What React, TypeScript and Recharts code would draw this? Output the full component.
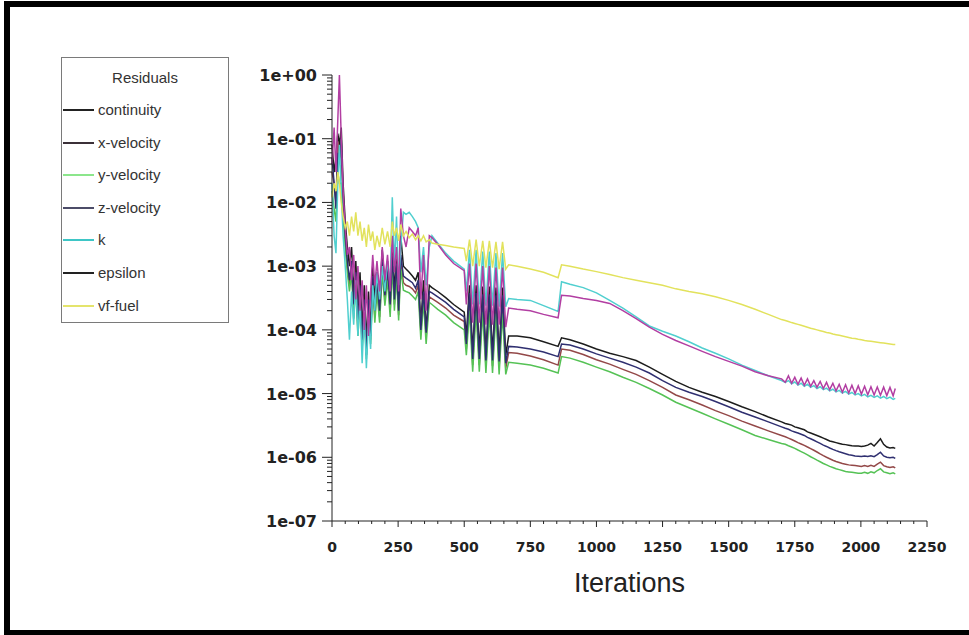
import { LineChart, Line, XAxis, YAxis } from "recharts";

// iteration numbers (x) shared by all residual series
const iterations = [
  0, 8, 15, 22, 28, 35, 42, 50,
  58, 66, 74, 82, 90, 98, 106, 114,
  122, 130, 138, 146, 154, 162, 170, 180,
  190, 200, 210, 220, 228, 236, 244, 252,
  260, 270, 280, 292, 304, 316, 326, 336,
  346, 356, 368, 378, 400, 430, 460, 500,
  508, 520, 532, 545, 557, 570, 582, 595, 607, 620, 632, 645, 657,
  668, 700, 750, 800, 855, 868, 900, 950, 1000, 1050, 1100, 1150, 1200, 1250, 1300, 1350, 1400, 1450, 1500, 1550, 1600, 1650, 1700,
  1714, 1726, 1738, 1750, 1762, 1774, 1786, 1798, 1810, 1822, 1834, 1846,
  1858, 1870, 1882, 1894, 1906, 1918, 1930, 1942, 1954, 1966, 1978, 1990,
  2002, 2014, 2026, 2038, 2050, 2062, 2074, 2086, 2098, 2110, 2122, 2130,
];

const continuity = [
  8e-2, 3e-2, 5e-2, 1.2e-1, 8e-2, 1.5e-1, 2e-2, 5e-3,
  2e-3, 1e-3, 2e-3, 4e-4, 1.2e-3, 2e-4, 8e-4, 1e-4,
  5e-4, 6e-5, 4e-4, 1e-4, 1e-3, 3e-4, 8e-4, 2.5e-4,
  1.8e-3, 5e-4, 1.2e-3, 3e-4, 2e-3, 4e-4, 1.5e-3, 2.5e-4,
  3e-3, 1e-3, 9e-4, 8e-4, 7e-4, 6e-4, 8e-4, 1.2e-4,
  6e-4, 1e-4, 5e-4, 4.6e-4, 4e-4, 3.2e-4, 2.5e-4, 1.9e-4,
  8e-5, 5e-4, 4.5e-5, 5e-4, 4.5e-5, 4.8e-4, 4.3e-5, 4.8e-4, 4.3e-5, 4.6e-4, 4.2e-5, 4.6e-4, 4e-5,
  8e-5, 8e-5, 7.5e-5, 6.5e-5, 5.5e-5, 7.5e-5, 7e-5, 6e-5, 5e-5, 4.3e-5, 3.8e-5, 3.3e-5, 2.6e-5, 2e-5, 1.55e-5, 1.25e-5, 1.05e-5, 9e-6, 7.5e-6, 6.2e-6, 5.2e-6, 4.3e-6, 3.6e-6,
  3.4e-6, 3.3e-6, 3.2e-6, 3e-6, 2.9e-6, 2.8e-6, 2.7e-6, 2.5e-6, 2.4e-6, 2.3e-6, 2.2e-6, 2.1e-6,
  2e-6, 1.9e-6, 1.8e-6, 1.75e-6, 1.7e-6, 1.65e-6, 1.6e-6, 1.58e-6, 1.55e-6, 1.52e-6, 1.5e-6, 1.5e-6,
  1.48e-6, 1.5e-6, 1.55e-6, 1.65e-6, 1.5e-6, 1.7e-6, 1.95e-6, 1.6e-6, 1.45e-6, 1.4e-6, 1.42e-6, 1.38e-6,
];

const xVelocity = [
  3e-2, 2e-2, 1e-2, 9e-2, 5e-2, 6e-2, 1e-2, 2.5e-3,
  1e-3, 5e-4, 1e-3, 2e-4, 7e-4, 1e-4, 4e-4, 6e-5,
  2.5e-4, 4e-5, 2.5e-4, 7e-5, 6e-4, 1.6e-4, 5e-4, 1.6e-4,
  1e-3, 3e-4, 8e-4, 2e-4, 1.3e-3, 2.5e-4, 9e-4, 1.7e-4,
  1.2e-3, 5.5e-4, 5e-4, 4.8e-4, 4.4e-4, 3.8e-4, 5e-4, 9e-5,
  3.5e-4, 8e-5, 3.3e-4, 3.1e-4, 2.7e-4, 2.2e-4, 1.7e-4, 1.35e-4,
  5e-5, 3e-4, 2.8e-5, 3e-4, 2.8e-5, 2.9e-4, 2.7e-5, 2.9e-4, 2.7e-5, 2.8e-4, 2.6e-5, 2.8e-4, 2.5e-5,
  4.4e-5, 4.3e-5, 3.9e-5, 3.4e-5, 2.8e-5, 5e-5, 4.8e-5, 4.1e-5, 3.4e-5, 2.9e-5, 2.4e-5, 2e-5, 1.6e-5, 1.25e-5, 9.5e-6, 8e-6, 6.6e-6, 5.4e-6, 4.5e-6, 3.7e-6, 3.1e-6, 2.6e-6, 2.2e-6,
  2.1e-6, 2e-6, 1.9e-6, 1.8e-6, 1.7e-6, 1.62e-6, 1.54e-6, 1.45e-6, 1.37e-6, 1.29e-6, 1.21e-6, 1.13e-6,
  1.06e-6, 1e-6, 9.5e-7, 9e-7, 8.6e-7, 8.3e-7, 8e-7, 7.8e-7, 7.6e-7, 7.5e-7, 7.4e-7, 7.3e-7,
  7.2e-7, 7.4e-7, 7.2e-7, 7.5e-7, 7.2e-7, 7.8e-7, 8.4e-7, 7.4e-7, 7.1e-7, 6.9e-7, 7.1e-7, 6.8e-7,
];

const yVelocity = [
  1.5e-2, 8e-3, 5e-3, 3e-2, 2e-2, 2e-2, 6e-3, 2e-3,
  8e-4, 4e-4, 8e-4, 1.5e-4, 5e-4, 8e-5, 3e-4, 5e-5,
  2e-4, 3.5e-5, 2e-4, 6e-5, 5e-4, 1.3e-4, 4e-4, 1.3e-4,
  8e-4, 2.4e-4, 6e-4, 1.6e-4, 1e-3, 2e-4, 7e-4, 1.4e-4,
  9e-4, 4.2e-4, 4e-4, 3.8e-4, 3.4e-4, 3e-4, 4e-4, 7e-5,
  2.8e-4, 6e-5, 2.7e-4, 2.5e-4, 2.1e-4, 1.7e-4, 1.3e-4, 1e-4,
  4e-5, 2e-4, 2.2e-5, 2e-4, 2.2e-5, 1.9e-4, 2.1e-5, 1.9e-4, 2.1e-5, 1.8e-4, 2e-5, 1.8e-4, 2e-5,
  3.1e-5, 3e-5, 2.8e-5, 2.5e-5, 2.1e-5, 3.8e-5, 3.6e-5, 3.1e-5, 2.6e-5, 2.2e-5, 1.8e-5, 1.5e-5, 1.2e-5, 9.5e-6, 7.3e-6, 6e-6, 4.9e-6, 4e-6, 3.3e-6, 2.7e-6, 2.2e-6, 1.9e-6, 1.65e-6,
  1.6e-6, 1.52e-6, 1.45e-6, 1.38e-6, 1.3e-6, 1.23e-6, 1.16e-6, 1.09e-6, 1.02e-6, 9.6e-7, 9e-7, 8.5e-7,
  8e-7, 7.6e-7, 7.2e-7, 6.9e-7, 6.6e-7, 6.4e-7, 6.2e-7, 6e-7, 5.9e-7, 5.8e-7, 5.7e-7, 5.6e-7,
  5.6e-7, 5.8e-7, 5.6e-7, 5.9e-7, 5.7e-7, 6.2e-7, 6.6e-7, 5.9e-7, 5.7e-7, 5.5e-7, 5.7e-7, 5.5e-7,
];

const zVelocity = [
  5e-2, 2e-2, 8e-3, 6e-2, 4e-2, 1e-1, 1.2e-2, 3e-3,
  1.2e-3, 6e-4, 1.2e-3, 2.5e-4, 8e-4, 1.2e-4, 5e-4, 7e-5,
  3e-4, 4e-5, 3e-4, 8e-5, 7e-4, 2e-4, 6e-4, 2e-4,
  1.2e-3, 3.5e-4, 9e-4, 2.5e-4, 1.5e-3, 3e-4, 1.1e-3, 2e-4,
  1.5e-3, 7e-4, 6.5e-4, 6e-4, 5.5e-4, 4.5e-4, 6e-4, 1e-4,
  4e-4, 9e-5, 4e-4, 3.8e-4, 3.3e-4, 2.7e-4, 2.1e-4, 1.6e-4,
  6e-5, 3.8e-4, 3.5e-5, 3.8e-4, 3.5e-5, 3.6e-4, 3.3e-5, 3.6e-4, 3.3e-5, 3.5e-4, 3.2e-5, 3.5e-4, 3e-5,
  5.5e-5, 5.4e-5, 5e-5, 4.5e-5, 3.8e-5, 6e-5, 5.8e-5, 5e-5, 4.2e-5, 3.6e-5, 3.1e-5, 2.6e-5, 2.1e-5, 1.6e-5, 1.25e-5, 1.05e-5, 9e-6, 7.5e-6, 6.2e-6, 5.1e-6, 4.3e-6, 3.6e-6, 3e-6,
  2.85e-6, 2.75e-6, 2.6e-6, 2.5e-6, 2.4e-6, 2.3e-6, 2.2e-6, 2.05e-6, 1.95e-6, 1.85e-6, 1.75e-6, 1.65e-6,
  1.55e-6, 1.48e-6, 1.4e-6, 1.33e-6, 1.27e-6, 1.22e-6, 1.18e-6, 1.14e-6, 1.1e-6, 1.08e-6, 1.05e-6, 1.04e-6,
  1.03e-6, 1.05e-6, 1.03e-6, 1.06e-6, 1.02e-6, 1.1e-6, 1.2e-6, 1.05e-6, 1e-6, 9.8e-7, 1e-6, 9.6e-7,
];

const kResidual = [
  2e-2, 3e-3, 1.6e-3, 2e-2, 8e-2, 1.5e-2, 3e-3, 1e-3,
  3e-4, 7e-5, 4e-4, 1.2e-4, 6e-4, 8e-5, 3e-4, 3e-5,
  2e-4, 2.5e-5, 1.5e-4, 5e-5, 5e-4, 2e-4, 8e-4, 3e-4,
  1e-3, 4e-4, 1.2e-3, 5e-4, 1.2e-2, 1e-3, 6e-3, 5e-4,
  2e-3, 7e-3, 6.5e-3, 7e-3, 6e-3, 5e-3, 4e-3, 8e-4,
  2e-3, 5e-4, 2e-3, 3e-3, 2.3e-3, 1.6e-3, 1.2e-3, 9e-4,
  4e-4, 1.8e-3, 2.5e-4, 1.8e-3, 2.5e-4, 1.7e-3, 2.4e-4, 1.7e-3, 2.4e-4, 1.6e-3, 2.3e-4, 1.6e-3, 2.3e-4,
  3.1e-4, 3e-4, 2.9e-4, 2.4e-4, 1.95e-4, 5.7e-4, 5.2e-4, 4.6e-4, 3.8e-4, 2.9e-4, 2.2e-4, 1.6e-4, 1.15e-4, 9.5e-5, 8e-5, 6.5e-5, 5.2e-5, 4.3e-5, 3.5e-5, 2.8e-5, 2.3e-5, 1.9e-5, 1.6e-5,
  1.5e-5, 1.6e-5, 1.42e-5, 1.52e-5, 1.36e-5, 1.45e-5, 1.3e-5, 1.4e-5, 1.25e-5, 1.33e-5, 1.2e-5, 1.28e-5,
  1.15e-5, 1.22e-5, 1.1e-5, 1.17e-5, 1.06e-5, 1.12e-5, 1.02e-5, 1.08e-5, 9.8e-6, 1.04e-5, 9.5e-6, 1e-5,
  9.2e-6, 9.7e-6, 8.9e-6, 9.4e-6, 8.7e-6, 9.2e-6, 8.5e-6, 9e-6, 8.3e-6, 8.8e-6, 8.1e-6, 8.4e-6,
];

const epsilon = [
  4e-2, 1.5e-1, 3e-2, 2e-1, 1, 1e-1, 1.5e-2, 4e-3,
  1.5e-3, 2e-3, 6e-4, 1.5e-3, 3e-4, 1e-3, 2e-4, 6e-4,
  1e-4, 5e-4, 8e-5, 4e-4, 1.5e-3, 5e-4, 1.2e-3, 4e-4,
  2e-3, 6e-4, 1.5e-3, 4e-4, 3e-3, 8e-4, 2e-3, 4e-4,
  8e-3, 3e-3, 2e-3, 4e-3, 3.5e-3, 3e-3, 4e-3, 3e-4,
  1.5e-3, 2e-4, 3e-3, 2.8e-3, 2.2e-3, 1.5e-3, 1.1e-3, 8.5e-4,
  2.5e-4, 1.1e-3, 1.3e-4, 1.1e-3, 1.3e-4, 1e-3, 1.2e-4, 1e-3, 1.2e-4, 9.5e-4, 1.2e-4, 9.5e-4, 1.1e-4,
  2.2e-4, 2.1e-4, 2e-4, 1.75e-4, 1.55e-4, 3.5e-4, 3.4e-4, 3.1e-4, 2.9e-4, 2.6e-4, 2e-4, 1.5e-4, 1.1e-4, 8.5e-5, 6.8e-5, 5.6e-5, 4.6e-5, 3.8e-5, 3.2e-5, 2.7e-5, 2.2e-5, 1.9e-5, 1.7e-5,
  1.5e-5, 1.9e-5, 1.45e-5, 1.8e-5, 1.4e-5, 1.75e-5, 1.35e-5, 1.7e-5, 1.3e-5, 1.6e-5, 1.25e-5, 1.55e-5,
  1.2e-5, 1.5e-5, 1.15e-5, 1.45e-5, 1.1e-5, 1.4e-5, 1.05e-5, 1.38e-5, 1.02e-5, 1.35e-5, 1e-5, 1.32e-5,
  9.8e-6, 1.3e-5, 9.6e-6, 1.28e-5, 9.5e-6, 1.27e-5, 9.4e-6, 1.26e-5, 9.3e-6, 1.25e-5, 9.2e-6, 1.2e-5,
];

const vfFuel = [
  1.2e-2, 2e-2, 1.5e-2, 3e-2, 2e-2, 1e-2, 6e-3, 4e-3,
  5e-3, 3e-3, 6e-3, 3.5e-3, 7e-3, 3e-3, 5e-3, 2.5e-3,
  4e-3, 2e-3, 4.5e-3, 2.5e-3, 3.5e-3, 1.8e-3, 3e-3, 2e-3,
  4e-3, 2.2e-3, 3.5e-3, 2e-3, 5e-3, 3e-3, 4e-3, 2.5e-3,
  4.5e-3, 3e-3, 3.5e-3, 2.8e-3, 3.2e-3, 2.6e-3, 3e-3, 2.5e-3,
  3e-3, 2.4e-3, 2.6e-3, 2.3e-3, 2.2e-3, 2.1e-3, 2e-3, 1.9e-3,
  1.2e-3, 2.6e-3, 1e-3, 2.6e-3, 1e-3, 2.5e-3, 9.5e-4, 2.5e-3, 9.5e-4, 2.4e-3, 9e-4, 2.4e-3, 9e-4,
  1.05e-3, 1e-3, 9e-4, 8e-4, 6.6e-4, 1.05e-3, 1e-3, 9e-4, 8.2e-4, 7.4e-4, 6.6e-4, 6e-4, 5.5e-4, 5e-4, 4.4e-4, 4e-4, 3.7e-4, 3.3e-4, 2.9e-4, 2.5e-4, 2.1e-4, 1.75e-4, 1.45e-4,
  1.4e-4, 1.35e-4, 1.3e-4, 1.26e-4, 1.22e-4, 1.18e-4, 1.14e-4, 1.1e-4, 1.06e-4, 1.03e-4, 1e-4, 9.7e-5,
  9.4e-5, 9.1e-5, 8.9e-5, 8.6e-5, 8.4e-5, 8.2e-5, 8e-5, 7.8e-5, 7.6e-5, 7.4e-5, 7.3e-5, 7.1e-5,
  7e-5, 6.8e-5, 6.7e-5, 6.6e-5, 6.5e-5, 6.4e-5, 6.3e-5, 6.2e-5, 6.1e-5, 6e-5, 5.9e-5, 5.9e-5,
];

const seriesNames = ["continuity", "x-velocity", "y-velocity", "z-velocity", "k", "epsilon", "vf-fuel"];
const seriesValues = [continuity, xVelocity, yVelocity, zVelocity, kResidual, epsilon, vfFuel];

const yTicks = [1, 1e-1, 1e-2, 1e-3, 1e-4, 1e-5, 1e-6, 1e-7];
const yTickLabels = ["1e+00", "1e-01", "1e-02", "1e-03", "1e-04", "1e-05", "1e-06", "1e-07"];
const xTicks = [0, 250, 500, 750, 1000, 1250, 1500, 1750, 2000, 2250];

// styling
const lineColors = ["#1d1d1d", "#934848", "#55c255", "#2f2f70", "#50cfcf", "#b23ea2", "#e2e25c"];
const legendColors = ["#222222", "#3b3038", "#8ce68c", "#4c4c68", "#3ec6c6", "#222222", "#e4e46c"];
const axisColor = "#222";
const tickFont = '"DejaVu Sans", Verdana, sans-serif';
const textFont = '"Liberation Sans", Arial, sans-serif';

const data = iterations.map((it, i) => {
  const row: Record<string, number> = { it };
  seriesNames.forEach((name, s) => {
    row[name] = seriesValues[s][i];
  });
  return row;
});

// minor ticks: 2..9 in each decade on y, every 50 iterations on x
const yAllTicks = [
  ...yTicks,
  ...yTicks.slice(1).flatMap((d) => [2, 3, 4, 5, 6, 7, 8, 9].map((m) => m * d)),
];
const xAllTicks: number[] = [];
for (let v = 0; v <= 2250; v += 50) xAllTicks.push(v);

function YTick(props: any) {
  const { x, y, payload } = props;
  const idx = yTicks.findIndex((t) => Math.abs(Math.log10(t) - Math.log10(payload.value)) < 1e-6);
  const major = idx >= 0;
  return (
    <g>
      <line x1={x - (major ? 10 : 5)} x2={x} y1={y} y2={y} stroke={axisColor} strokeWidth={1} />
      {major && (
        <text x={x - 15} y={y + 6} textAnchor="end" fontFamily={tickFont} fontWeight="bold" fontSize={16} fill="#222">
          {yTickLabels[idx]}
        </text>
      )}
    </g>
  );
}

function XTick(props: any) {
  const { x, y, payload } = props;
  const major = xTicks.includes(payload.value);
  return (
    <g>
      <line x1={x} x2={x} y1={y} y2={y + (major ? 6 : 3)} stroke={axisColor} strokeWidth={1} />
      {major && (
        <text x={x} y={y + 31} textAnchor="middle" fontFamily={tickFont} fontWeight="bold" fontSize={14} fill="#222">
          {payload.value}
        </text>
      )}
    </g>
  );
}

function ResidualLegend() {
  return (
    <div
      style={{
        position: "absolute",
        left: 61,
        top: 57,
        width: 166,
        height: 264,
        border: "1px solid #7a7a7a",
        background: "#fff",
        fontFamily: textFont,
        color: "#333",
      }}
    >
      <div style={{ position: "absolute", top: 11, width: "100%", textAlign: "center", fontSize: 15, lineHeight: "18px" }}>
        Residuals
      </div>
      {seriesNames.map((name, i) => (
        <div key={name} style={{ position: "absolute", left: 0, top: 43 + i * 32.6, height: 18, width: "100%" }}>
          <div style={{ position: "absolute", left: 1, top: 8, width: 31, height: 2, background: legendColors[i] }} />
          <div style={{ position: "absolute", left: 36, top: 0, fontSize: 15, lineHeight: "18px" }}>{name}</div>
        </div>
      ))}
    </div>
  );
}

export default function App() {
  return (
    <div style={{ position: "absolute", left: 0, top: 0, width: 969, height: 635, background: "#fff", overflow: "hidden" }}>
      {/* picture frame */}
      <div style={{ position: "absolute", left: 4, top: 1, width: 965, height: 6, background: "#000" }} />
      <div style={{ position: "absolute", left: 4, top: 1, width: 6, height: 634, background: "#000" }} />
      <div style={{ position: "absolute", left: 4, top: 630, width: 965, height: 5, background: "#000" }} />
      <div style={{ position: "absolute", left: 0, top: 0 }}>
        <LineChart width={969} height={635} data={data} margin={{ top: 75, right: 42, bottom: 39, left: 252 }}>
          <XAxis
            dataKey="it"
            type="number"
            domain={[0, 2250]}
            ticks={xAllTicks}
            interval={0}
            tick={<XTick />}
            tickLine={false}
            tickSize={0}
            tickMargin={0}
            height={75}
            axisLine={{ stroke: axisColor }}
            label={{ value: "Iterations", position: "insideBottom", offset: 4, fontSize: 27, fill: "#222", fontFamily: textFont }}
          />
          <YAxis
            type="number"
            scale="log"
            domain={[1e-7, 1]}
            allowDataOverflow
            ticks={yAllTicks}
            interval={0}
            tick={<YTick />}
            tickLine={false}
            tickSize={0}
            tickMargin={0}
            width={80}
            axisLine={{ stroke: axisColor }}
          />
          {seriesNames.map((name, i) => (
            <Line
              key={name}
              type="linear"
              dataKey={name}
              stroke={lineColors[i]}
              strokeWidth={1.5}
              dot={false}
              isAnimationActive={false}
            />
          ))}
        </LineChart>
      </div>
      <ResidualLegend />
    </div>
  );
}
